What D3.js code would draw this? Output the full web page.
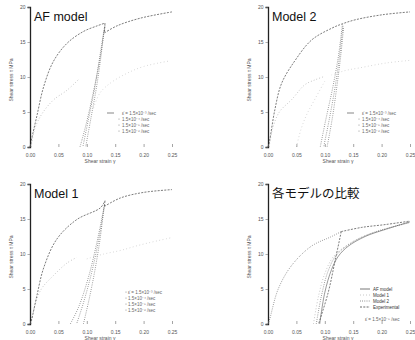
<!DOCTYPE html>
<html>
  <head>
    <meta charset="utf-8">
    <title>Shear stress - strain, model comparison</title>
    <script src="https://cdn.jsdelivr.net/npm/d3@7"></script>
    <style>
      body { margin: 0; background: #fff; }
      svg { display: block; font-family: "Liberation Sans", Arial, sans-serif; }
    </style>
  </head>
  <body>
    <div id="viz"></div>
    <script>
      // tick labels shared by the four panels
      var xTicks = [0, 0.05, 0.10, 0.15, 0.20, 0.25];
      var yTicks = [0, 5, 10, 15, 20];
      var rateLabels = ["ε̇ = 1.5×10⁻³ /sec", "1.5×10⁻⁴ /sec", "1.5×10⁻⁵ /sec", "1.5×10⁻⁶ /sec"];
      var modelLabels = ["AF model", "Model 1", "Model 2", "Experimental"];

      // ---- AF model : [shear strain, shear stress MPa]
      var afLoad   = [[0,0],[0.003,1.2],[0.012,4.4],[0.024,8.6],[0.041,12.2],[0.065,14.8],[0.094,16.5],[0.118,17.3],[0.132,17.7]];
      var afDrop   = [[0.132,17.7],[0.131,16.3]];
      var afCont   = [[0.131,16.3],[0.153,17.3],[0.194,18.4],[0.25,19.3]];
      var afUnA    = [[0.132,17.4],[0.124,13],[0.112,8],[0.098,3],[0.088,0]];
      var afUnB    = [[0.131,17],[0.124,13.5],[0.114,8.5],[0.103,4],[0.093,0]];
      var afUnC    = [[0.13,16.5],[0.125,13],[0.117,8.5],[0.107,4],[0.098,0]];
      var afLow    = [[0.002,0],[0.008,2.5],[0.02,4.6],[0.041,6.7],[0.065,8.1],[0.085,9.6]];
      var afHigh   = [[0.112,5.6],[0.123,7.7],[0.141,9.1],[0.17,10.5],[0.2,11.5],[0.246,12.3]];

      // ---- Model 2
      var m2Load   = [[0,0],[0.003,1],[0.012,5.3],[0.024,9.1],[0.048,12.4],[0.077,15.3],[0.113,17],[0.131,17.6],[0.155,18.2],[0.202,18.9],[0.25,19.3]];
      var m2UnA    = [[0.131,17.5],[0.124,13],[0.114,8.5],[0.102,4],[0.092,0]];
      var m2UnB    = [[0.132,17.3],[0.126,13],[0.118,8.5],[0.108,4],[0.098,0]];
      var m2UnC    = [[0.133,17],[0.128,13],[0.121,8.5],[0.113,4],[0.104,0]];
      var m2Low    = [[0.002,0],[0.008,2.6],[0.02,5],[0.042,6.8],[0.065,8.9],[0.083,9.6],[0.1,10.1]];
      var m2Rel    = [[0.05,0],[0.058,2.5],[0.068,4.6],[0.083,6.9],[0.1,9.4]];
      var m2High   = [[0.112,10.3],[0.135,10.9],[0.161,11.3],[0.208,12],[0.253,12.4]];

      // ---- Model 1
      var m1Load   = [[0,0],[0.003,0.7],[0.012,4],[0.024,8],[0.047,12.1],[0.082,14.9],[0.124,16.6],[0.132,17.6]];
      var m1Drop   = [[0.132,17.6],[0.131,16.8]];
      var m1Cont   = [[0.131,16.8],[0.159,18],[0.2,18.8],[0.25,19.2]];
      var m1UnA    = [[0.131,17],[0.12,12.5],[0.104,7],[0.086,2.5],[0.071,0]];
      var m1UnB    = [[0.131,16.8],[0.122,12.5],[0.109,7.5],[0.094,3],[0.082,0]];
      var m1UnC    = [[0.13,16.5],[0.124,12.5],[0.115,8],[0.104,3.5],[0.094,0]];
      var m1Low    = [[0.002,0],[0.008,2.5],[0.02,5],[0.041,6.9],[0.065,8.7],[0.082,9.5]];
      var m1High   = [[0.1,9.3],[0.13,10],[0.159,10.5],[0.194,11.3],[0.247,12.3]];

      // ---- comparison of the models (ε̇ = 1.5×10⁻⁵ /sec)
      var cmpLoad  = [[0,0],[0.003,0.7],[0.018,5],[0.041,8.3],[0.076,11.1],[0.112,12.5],[0.129,13.2]];
      var cmpCont  = [[0.129,13.2],[0.165,13.8],[0.206,14.2],[0.25,14.7]];
      var cmpUn    = [[0.129,13.2],[0.118,9],[0.106,4.5],[0.089,0]];
      var cmpAf    = [[0.091,0],[0.1,4.5],[0.112,7.8],[0.124,9.7],[0.141,11.1],[0.171,12.5],[0.206,13.5],[0.25,14.6]];
      var cmpM1    = [[0.08,0],[0.089,4],[0.1,7.2],[0.115,9.6],[0.14,11.3],[0.17,12.6],[0.21,13.6],[0.25,14.5]];
      var cmpM2    = [[0.085,0],[0.094,4],[0.106,7.6],[0.12,9.8],[0.145,11.5],[0.18,12.9],[0.22,13.9],[0.25,14.5]];

      var dark = { stroke: "#444", dash: "2,1.3", width: 0.7 };
      var unld = { stroke: "#555", dash: "0.8,1.4", width: 0.7 };
      var grey = { stroke: "#a8a8a8", dash: "0.8,2.2", width: 0.8 };
      var pale = { stroke: "#c4c4c4", dash: "0.8,2.6", width: 0.8 };
      var solid = { stroke: "#555", dash: null, width: 0.6 };

      var panels = [
        { title: "AF model", x0: 30, y0: 7, legend: "rate", lx: 107, ly: 113,
          series: [[afLow, grey], [afHigh, pale], [afUnA, unld], [afUnB, unld], [afUnC, unld], [afLoad, dark], [afDrop, dark], [afCont, dark]] },
        { title: "Model 2", x0: 268, y0: 7, legend: "rate", lx: 347, ly: 113,
          series: [[m2Low, grey], [m2Rel, pale], [m2High, pale], [m2UnA, unld], [m2UnB, unld], [m2UnC, unld], [m2Load, dark]] },
        { title: "Model 1", x0: 30, y0: 184, legend: "rate1", lx: 125, ly: 292,
          series: [[m1Low, grey], [m1High, pale], [m1UnA, unld], [m1UnB, unld], [m1UnC, unld], [m1Load, dark], [m1Drop, dark], [m1Cont, dark]] },
        { title: "各モデルの比較", x0: 268, y0: 184, legend: "model", lx: 360, ly: 289,
          series: [[cmpM1, grey], [cmpM2, unld], [cmpAf, solid], [cmpUn, dark], [cmpLoad, unld], [cmpCont, dark]] }
      ];

      var W = 415, H = 340, pw = 142, ph = 140;
      var svg = d3.select("#viz").append("svg").attr("width", W).attr("height", H);

      panels.forEach(function(p) {
        var x = d3.scaleLinear().domain([0, 0.25]).range([p.x0, p.x0 + pw]);
        var y = d3.scaleLinear().domain([0, 20]).range([p.y0 + ph, p.y0]);
        var g = svg.append("g");

        // curves
        var line = d3.line()
            .x(function(d) { return x(d[0]); })
            .y(function(d) { return y(d[1]); })
            .curve(d3.curveCatmullRom.alpha(0.5));
        p.series.forEach(function(s) {
          g.append("path")
            .attr("d", line(s[0]))
            .attr("fill", "none")
            .attr("stroke", s[1].stroke)
            .attr("stroke-width", s[1].width)
            .attr("stroke-dasharray", s[1].dash);
        });

        // y axis, with its heavy spine
        var ya = g.append("g").attr("transform", "translate(" + p.x0 + ",0)")
            .call(d3.axisLeft(y).tickValues(yTicks).tickSize(2.5).tickPadding(2).tickFormat(d3.format("d")));
        ya.select(".domain").attr("stroke", "#222").attr("stroke-width", 1.3);
        ya.selectAll(".tick line").attr("stroke", "#777").attr("stroke-width", 0.6);
        ya.selectAll("text").attr("font-size", 5).attr("fill", "#555").attr("font-family", "Liberation Sans, Arial, sans-serif");

        // x axis: ticks only, no base line
        var xa = g.append("g").attr("transform", "translate(0," + (p.y0 + ph) + ")")
            .call(d3.axisBottom(x).tickValues(xTicks).tickSizeInner(-3).tickSizeOuter(0).tickPadding(6).tickFormat(d3.format(".2f")));
        xa.select(".domain").remove();
        xa.selectAll(".tick line").attr("stroke", "#666").attr("stroke-width", 0.6);
        xa.selectAll("text").attr("font-size", 5).attr("fill", "#555").attr("font-family", "Liberation Sans, Arial, sans-serif");

        // axis titles
        g.append("text")
          .attr("x", p.x0 + 70).attr("y", p.y0 + ph + 16)
          .attr("text-anchor", "middle").attr("font-size", 5).attr("fill", "#555")
          .text("Shear strain  γ");
        g.append("text")
          .attr("transform", "translate(" + (p.x0 - 17) + "," + (p.y0 + 73) + ") rotate(-90)")
          .attr("text-anchor", "middle").attr("font-size", 5).attr("fill", "#555")
          .text("Shear stress  τ  MPa");

        // panel title
        g.append("text")
          .attr("x", p.x0 + 4).attr("y", p.y0 + 14)
          .attr("font-size", 12.5).attr("fill", "#111")
          .attr("font-family", p.title.charCodeAt(0) > 255 ? "Noto Sans CJK JP, sans-serif" : "Liberation Sans, Arial, sans-serif")
          .text(p.title);

        // legends
        var lg = g.append("g").attr("font-size", 4.5).attr("fill", "#666");
        if (p.legend === "rate" || p.legend === "rate1") {
          rateLabels.forEach(function(t, i) {
            var yy = p.ly + i * 6;
            if (i === 0 && p.legend === "rate") {
              lg.append("line").attr("x1", p.lx).attr("x2", p.lx + 7).attr("y1", yy).attr("y2", yy)
                .attr("stroke", "#aaa").attr("stroke-width", 1.4);
            } else {
              lg.append("circle").attr("cx", p.lx + (p.legend === "rate" ? 12 : 1)).attr("cy", yy).attr("r", 0.5).attr("fill", "#777");
            }
            lg.append("text").attr("x", p.lx + (p.legend === "rate" ? 15 : 3)).attr("y", yy + 1.6).text(t);
          });
        } else {
          var styles = [solid, grey, unld, dark];
          modelLabels.forEach(function(t, i) {
            var yy = p.ly + i * 6;
            lg.append("line").attr("x1", p.lx).attr("x2", p.lx + 10).attr("y1", yy).attr("y2", yy)
              .attr("stroke", styles[i].stroke).attr("stroke-width", 0.8).attr("stroke-dasharray", styles[i].dash);
            lg.append("text").attr("x", p.lx + 13).attr("y", yy + 1.6).attr("fill", "#333").text(t);
          });
          lg.append("text").attr("x", p.lx + 5).attr("y", p.ly + 32).text("ε̇ = 1.5×10⁻⁵ /sec");
        }
      });
    </script>
  </body>
</html>
